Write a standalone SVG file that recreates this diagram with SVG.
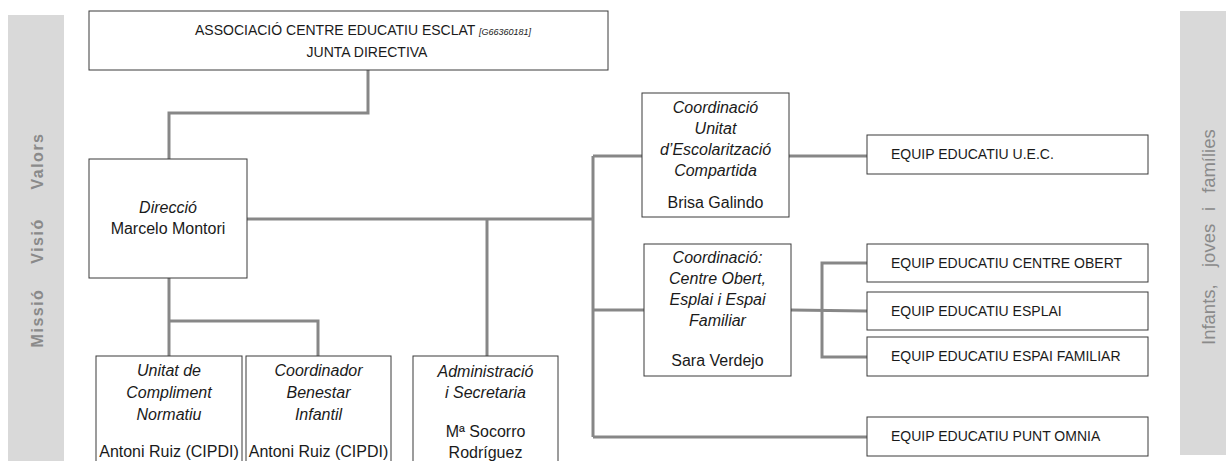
<svg xmlns="http://www.w3.org/2000/svg" width="1226" height="461" viewBox="0 0 1226 461">
<style>
.bg{fill:#ffffff}
.bar{fill:#d9d9d9}
.side{font-family:"Liberation Sans",Arial,sans-serif;fill:#8a8a8a}
.box{fill:#ffffff;stroke:#3a3a3a;stroke-width:1}
.t{font-family:"Liberation Sans",Arial,sans-serif;font-size:16px;fill:#1a1a1a}
.i{font-style:italic}
.c{text-anchor:middle}
.u{font-family:"Liberation Sans",Arial,sans-serif;font-size:14px;fill:#1a1a1a}
.code{font-style:italic;font-size:9px}
.conn path{fill:none;stroke:#878787;stroke-width:3;stroke-linejoin:miter}
</style>
<rect class="bg" x="0" y="0" width="1226" height="461"/>

<g id="sidebar-left">
<rect class="bar" x="8" y="15" width="56" height="446"/>
<text class="side" font-size="16" font-weight="bold" letter-spacing="1.5" text-anchor="middle" transform="translate(43,161) rotate(-90)">Valors</text>
<text class="side" font-size="16" font-weight="bold" letter-spacing="1.5" text-anchor="middle" transform="translate(43,241) rotate(-90)">Visió</text>
<text class="side" font-size="16" font-weight="bold" letter-spacing="1.5" text-anchor="middle" transform="translate(43,318) rotate(-90)">Missió</text>
</g>

<g id="sidebar-right">
<rect class="bar" x="1180" y="11" width="46" height="444"/>
<text class="side" font-size="18.5" transform="translate(1215,0) rotate(-90)"><tspan x="-345">Infants,</tspan><tspan x="-267">joves</tspan><tspan x="-211">i</tspan><tspan x="-193">famílies</tspan></text>
</g>

<g class="conn" id="connectors">
<path d="M368,70 V113 H169 V159"/>
<path d="M247,219 H593"/>
<path d="M487,219 V356"/>
<path d="M593,156 V437"/>
<path d="M593,156 H642"/>
<path d="M593,310 H644"/>
<path d="M593,437 H867"/>
<path d="M789,156 H867"/>
<path d="M791,310 L867,311"/>
<path d="M867,263 H822 V357 H867"/>
<path d="M169,278 V356"/>
<path d="M169,321 H318 V356"/>
</g>

<g id="junta">
<rect class="box" x="89" y="11" width="519" height="59"/>
<text class="u" x="195" y="35" font-size="13.5">ASSOCIACIÓ CENTRE EDUCATIU ESCLAT <tspan class="code">[G66360181]</tspan></text>
<text class="u c" x="367" y="57">JUNTA DIRECTIVA</text>
</g>

<g id="direccio">
<rect class="box" x="89" y="159" width="158" height="119"/>
<text class="t i c" x="168" y="213">Direcció</text>
<text class="t c" x="168" y="234">Marcelo Montori</text>
</g>

<g id="coord-uec">
<rect class="box" x="642" y="93" width="147" height="124"/>
<text class="t i c" x="715.5" y="113">Coordinació</text>
<text class="t i c" x="715.5" y="134">Unitat</text>
<text class="t i c" x="715.5" y="155">d’Escolarització</text>
<text class="t i c" x="715.5" y="176">Compartida</text>
<text class="t c" x="715.5" y="208">Brisa Galindo</text>
</g>

<g id="coord-co">
<rect class="box" x="644" y="244" width="147" height="132"/>
<text class="t i c" x="717.5" y="263">Coordinació:</text>
<text class="t i c" x="717.5" y="284">Centre Obert,</text>
<text class="t i c" x="717.5" y="305">Esplai i Espai</text>
<text class="t i c" x="717.5" y="326">Familiar</text>
<text class="t c" x="717.5" y="366">Sara Verdejo</text>
</g>

<g id="equip-uec">
<rect class="box" x="867" y="135" width="281" height="39"/>
<text class="u" x="891" y="159">EQUIP EDUCATIU U.E.C.</text>
</g>
<g id="equip-co">
<rect class="box" x="867" y="244" width="281" height="38"/>
<text class="u" x="891" y="268">EQUIP EDUCATIU CENTRE OBERT</text>
</g>
<g id="equip-esplai">
<rect class="box" x="867" y="292" width="281" height="38"/>
<text class="u" x="891" y="316">EQUIP EDUCATIU ESPLAI</text>
</g>
<g id="equip-ef">
<rect class="box" x="867" y="337" width="281" height="39"/>
<text class="u" x="891" y="361">EQUIP EDUCATIU ESPAI FAMILIAR</text>
</g>
<g id="equip-omnia">
<rect class="box" x="867" y="417" width="281" height="39"/>
<text class="u" x="891" y="441">EQUIP EDUCATIU PUNT OMNIA</text>
</g>

<g id="compliment">
<rect class="box" x="96" y="356" width="146" height="115"/>
<text class="t i c" x="169" y="376">Unitat de</text>
<text class="t i c" x="169" y="398">Compliment</text>
<text class="t i c" x="169" y="420">Normatiu</text>
<text class="t c" x="169" y="457">Antoni Ruiz (CIPDI)</text>
</g>

<g id="benestar">
<rect class="box" x="246" y="356" width="145" height="115"/>
<text class="t i c" x="318.5" y="376">Coordinador</text>
<text class="t i c" x="318.5" y="398">Benestar</text>
<text class="t i c" x="318.5" y="420">Infantil</text>
<text class="t c" x="318.5" y="457">Antoni Ruiz (CIPDI)</text>
</g>

<g id="administracio">
<rect class="box" x="413" y="356" width="145" height="115"/>
<text class="t i c" x="485.5" y="377">Administració</text>
<text class="t i c" x="485.5" y="398">i Secretaria</text>
<text class="t c" x="485.5" y="437">Mª Socorro</text>
<text class="t c" x="485.5" y="458">Rodríguez</text>
</g>
</svg>
